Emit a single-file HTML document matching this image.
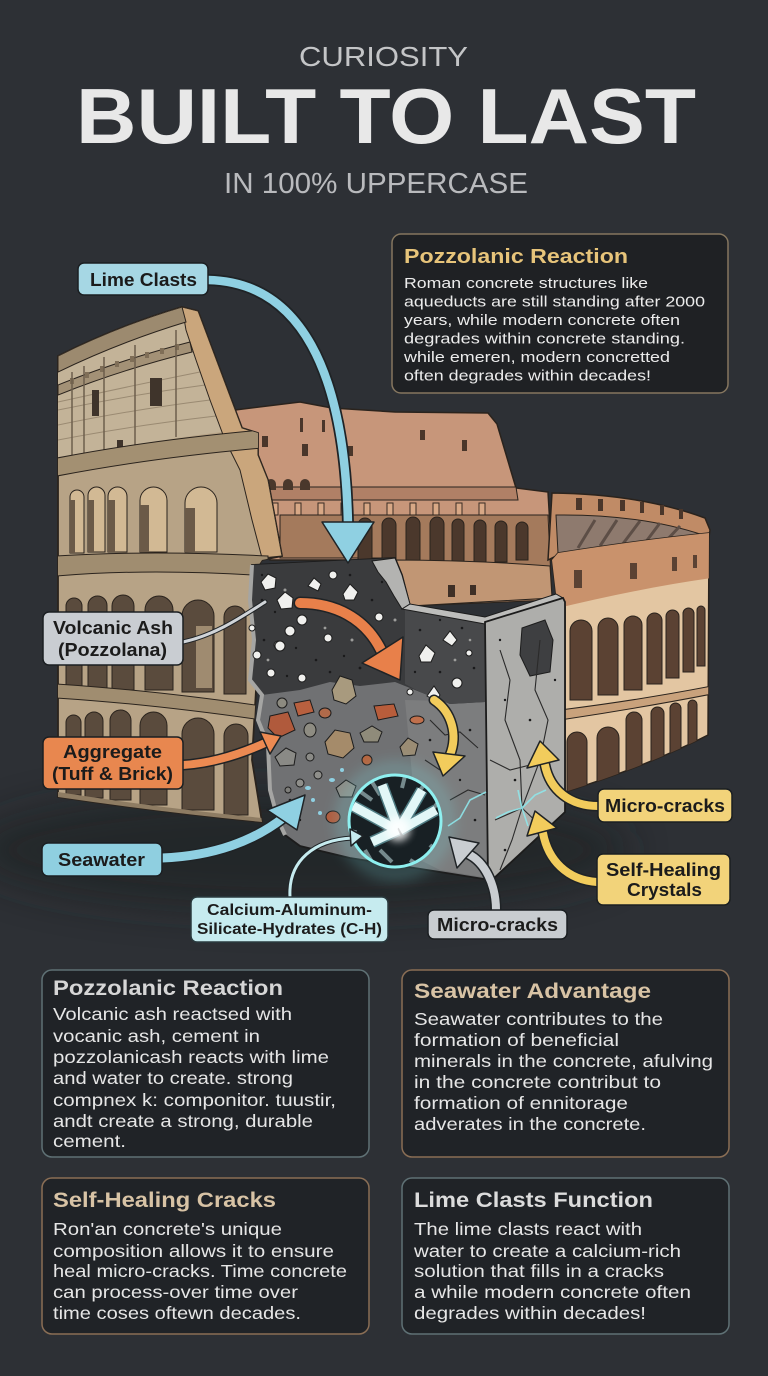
<!DOCTYPE html>
<html><head><meta charset="utf-8">
<style>
html,body{margin:0;padding:0;background:#2d3035;}
svg{display:block;}
text{font-family:"Liberation Sans",sans-serif;}
</style></head><body>
<svg width="768" height="1376" viewBox="0 0 768 1376" xmlns="http://www.w3.org/2000/svg">
<defs>
<filter id="b8" x="-50%" y="-50%" width="200%" height="200%"><feGaussianBlur stdDeviation="8"/></filter>
<filter id="b4" x="-50%" y="-50%" width="200%" height="200%"><feGaussianBlur stdDeviation="4"/></filter>
<filter id="b20" x="-50%" y="-50%" width="200%" height="200%"><feGaussianBlur stdDeviation="20"/></filter>
<clipPath id="circ"><circle cx="395" cy="821" r="46"/></clipPath>
<clipPath id="rsec"><path d="M552,560 L558,553 Q640,540 709,533 L708,735 Q650,765 565,792 L565,602 L556,594 Z"/></clipPath>
<clipPath id="lsec"><path d="M58,356 Q118,326 182,307 L198,311 L242,428 L258,433 L258,455 L268,480 L282,556 L262,560 L252,575 L256,690 L252,760 L262,822 Q160,812 58,797 Z"/></clipPath>
</defs>
<rect width="768" height="1376" fill="#2d3035"/>

<!-- Title -->
<text x="299" y="66" font-size="28" fill="#c4c5c7" textLength="169" lengthAdjust="spacingAndGlyphs">CURIOSITY</text>
<text x="76" y="143" font-size="78" font-weight="bold" fill="#e8e8e8" textLength="620" lengthAdjust="spacingAndGlyphs">BUILT TO LAST</text>
<text x="224" y="193" font-size="29" fill="#b9babd" textLength="304" lengthAdjust="spacingAndGlyphs">IN 100% UPPERCASE</text>

<!-- shadow -->
<ellipse cx="300" cy="850" rx="330" ry="60" fill="#1e2024" opacity="0.6" filter="url(#b20)"/>

<!-- back wall -->
<path d="M235,410 L300,402 L332,408 L395,412 L488,413 L497,424 L516,488 L548,492 L552,560 L270,560 L235,420 Z" fill="#c7967a" stroke="#2a231d" stroke-width="1.5"/>
<path d="M240,487 L516,487 L518,500 L242,500 Z" fill="#b08066" stroke="#2a231d" stroke-width="1"/>
<g fill="#4a362a">
<rect x="262" y="436" width="6" height="11"/><rect x="302" y="444" width="6" height="12"/><rect x="348" y="446" width="5" height="10"/><rect x="420" y="430" width="5" height="10"/><rect x="462" y="440" width="5" height="11"/><rect x="300" y="418" width="3" height="14"/><rect x="322" y="420" width="3" height="12"/>
</g>
<g fill="#d8a886" stroke="#3a2c24" stroke-width="1">
<rect x="272" y="503" width="6" height="12"/><rect x="295" y="503" width="6" height="12"/><rect x="318" y="503" width="6" height="12"/><rect x="341" y="503" width="6" height="12"/><rect x="364" y="503" width="6" height="12"/><rect x="387" y="503" width="6" height="12"/><rect x="410" y="503" width="6" height="12"/><rect x="433" y="503" width="6" height="12"/><rect x="456" y="503" width="6" height="12"/><rect x="479" y="503" width="6" height="12"/>
</g>
<g fill="#4a382c"><path d="M266,490 V484 A5,5 0 0 1 276,484 V490 Z"/><path d="M283,490 V484 A5,5 0 0 1 293,484 V490 Z"/><path d="M300,490 V484 A5,5 0 0 1 310,484 V490 Z"/></g>

<!-- interior arena -->
<path d="M280,515 L548,515 L552,600 L410,606 L395,558 L280,558 Z" fill="#a47a5c" stroke="#2a231d" stroke-width="1"/>
<g fill="#4b382c" stroke="#2a231d" stroke-width="1">
<path d="M358,562 V525 A7,7 0 0 1 372,525 V562 Z"/>
<path d="M382,562 V525 A7,7 0 0 1 396,525 V562 Z"/>
<path d="M406,562 V524 A7,7 0 0 1 420,524 V562 Z"/>
<path d="M430,562 V524 A7,7 0 0 1 444,524 V562 Z"/>
<path d="M452,562 V525 A6,6 0 0 1 464,525 V562 Z"/>
<path d="M474,562 V526 A6,6 0 0 1 486,526 V562 Z"/>
<path d="M495,562 V527 A6,6 0 0 1 507,527 V562 Z"/>
<path d="M516,560 V528 A6,6 0 0 1 528,528 V560 Z"/>
</g>
<path d="M395,560 Q470,560 550,566 L552,598 L410,606 Z" fill="#c19674" stroke="#2a231d" stroke-width="1"/>
<rect x="448" y="585" width="7" height="12" fill="#3e2f26"/><rect x="470" y="585" width="6" height="10" fill="#3e2f26"/>

<!-- right section -->
<path d="M548,560 L552,493 Q640,494 705,518 L710,530 L709,537 Q640,541 558,555 Z" fill="#c08b66" stroke="#2a231d" stroke-width="1.5"/>
<path d="M556,515 Q640,514 703,535 L703,540 Q640,542 558,553 Z" fill="#8e7a6e" stroke="#2a231d" stroke-width="1"/>
<g stroke="#5d4e46" stroke-width="3"><line x1="578" y1="548" x2="595" y2="520"/><line x1="600" y1="546" x2="617" y2="520"/><line x1="622" y1="545" x2="640" y2="521"/><line x1="645" y1="543" x2="660" y2="523"/><line x1="666" y1="541" x2="680" y2="526"/></g>
<g fill="#4a362a"><rect x="576" y="498" width="6" height="12"/><rect x="598" y="499" width="5" height="12"/><rect x="620" y="500" width="5" height="11"/><rect x="640" y="502" width="4" height="11"/><rect x="660" y="505" width="4" height="10"/><rect x="679" y="509" width="4" height="10"/></g>
<path d="M552,560 L558,553 Q640,540 709,533 L708,735 Q650,765 565,792 L565,602 L556,594 Z" fill="#e3c6a2" stroke="#2a231d" stroke-width="1.5"/>
<g clip-path="url(#rsec)">
<path d="M550,550 Q640,538 712,530 L712,578 Q640,588 550,610 Z" fill="#c9926c"/>
<g fill="#5b4233"><rect x="574" y="570" width="8" height="18"/><rect x="630" y="563" width="7" height="16"/><rect x="672" y="557" width="5" height="14"/><rect x="693" y="555" width="4" height="13"/></g>
<g fill="#5b4233" stroke="#2a231d" stroke-width="1">
<path d="M570,700 V631 A11,11 0 0 1 592,631 V700 Z"/>
<path d="M598,695 V628 A10,10 0 0 1 618,628 V695 Z"/>
<path d="M624,690 V625 A9,9 0 0 1 642,625 V690 Z"/>
<path d="M647,684 V620.5 A7.5,7.5 0 0 1 662,620.5 V684 Z"/>
<path d="M666,678 V616.5 A6.5,6.5 0 0 1 679,616.5 V678 Z"/>
<path d="M683,672 V613.5 A5.5,5.5 0 0 1 694,613.5 V672 Z"/>
<path d="M697,666 V610 A4,4 0 0 1 705,610 V666 Z"/>
<path d="M567,800 V742 A10,10 0 0 1 587,742 V800 Z"/>
<path d="M597,790 V738 A11,11 0 0 1 619,738 V790 Z"/>
<path d="M626,780 V720 A8,8 0 0 1 642,720 V780 Z"/>
<path d="M651,770 V713.5 A6.5,6.5 0 0 1 664,713.5 V770 Z"/>
<path d="M670,760 V708.5 A5.5,5.5 0 0 1 681,708.5 V760 Z"/>
<path d="M688,752 V704.5 A4.5,4.5 0 0 1 697,704.5 V752 Z"/>
</g>
<path d="M560,710 Q640,700 712,686 L712,694 Q640,708 560,720 Z" fill="#c9a27c" stroke="#2a231d" stroke-width="1"/>
</g>

<!-- left section -->
<path d="M58,356 Q118,326 182,307 L198,311 L242,428 L258,433 L258,455 L268,480 L282,556 L262,560 L252,575 L256,690 L252,760 L262,822 Q160,812 58,797 Z" fill="#b7a386" stroke="#2a231d" stroke-width="1.8"/>
<g clip-path="url(#lsec)">
<path d="M58,356 Q118,326 182,307 L196,360 L222,432 Q140,442 57,460 Z" fill="#c3b398"/>
<g stroke="#9a8a72" stroke-width="1" fill="none"><path d="M58,410 Q130,395 205,385"/><path d="M58,425 Q130,410 210,400"/><path d="M58,440 Q130,426 216,416"/><path d="M58,402 Q130,386 200,372"/></g>
<path d="M182,307 L198,311 L242,428 L258,433 L258,455 L268,480 L282,556 L262,558 L252,520 L240,470 L225,440 L210,400 L196,360 L186,330 Z" fill="#caa67c" stroke="#2a231d" stroke-width="1"/>
<path d="M58,356 Q118,326 182,307 L186,322 Q120,342 58,372 Z" fill="#9c8a6f" stroke="#2a231d" stroke-width="1"/>
<path d="M58,385 Q120,360 190,342 L192,352 Q120,370 58,395 Z" fill="#a39176" stroke="#2a231d" stroke-width="1"/>
<g fill="#7f6e57"><rect x="70" y="378" width="4" height="6"/><rect x="85" y="372" width="4" height="6"/><rect x="100" y="366" width="4" height="6"/><rect x="115" y="361" width="4" height="6"/><rect x="130" y="356" width="4" height="6"/><rect x="145" y="352" width="4" height="6"/><rect x="160" y="348" width="4" height="6"/><rect x="175" y="344" width="4" height="6"/></g>
<g stroke="#6d5e4c" stroke-width="1.5"><line x1="72" y1="372" x2="72" y2="458"/><line x1="84" y1="366" x2="84" y2="455"/><line x1="104" y1="357" x2="104" y2="450"/><line x1="135" y1="345" x2="135" y2="445"/><line x1="176" y1="330" x2="176" y2="437"/></g>
<rect x="92" y="390" width="7" height="26" fill="#3f342b"/><rect x="150" y="378" width="12" height="28" fill="#3f342b"/><rect x="117" y="440" width="6" height="12" fill="#3f342b"/>
<path d="M57,458 Q150,440 262,430 L262,448 Q150,458 57,476 Z" fill="#a39072" stroke="#2a231d" stroke-width="1"/>
<g fill="#d2b994" stroke="#2a231d" stroke-width="1">
<path d="M70,553 V497 A7,7 0 0 1 84,497 V553 Z"/>
<path d="M88,552 V495.5 A8.5,8.5 0 0 1 105,495.5 V552 Z"/>
<path d="M108,552 V496.5 A9.5,9.5 0 0 1 127,496.5 V552 Z"/>
<path d="M140,552 V500.5 A13.5,13.5 0 0 1 167,500.5 V552 Z"/>
<path d="M185,552 V503 A16,16 0 0 1 217,503 V552 Z"/>
</g>
<g fill="#6b5a48"><rect x="70" y="500" width="5" height="53"/><rect x="88" y="500" width="6" height="52"/><rect x="108" y="500" width="7" height="52"/><rect x="140" y="505" width="9" height="47"/><rect x="185" y="508" width="10" height="44"/></g>
<path d="M57,556 Q150,550 268,556 L268,576 Q150,568 57,576 Z" fill="#a08d70" stroke="#2a231d" stroke-width="1"/>
<g fill="#5a4b3d" stroke="#2a231d" stroke-width="1">
<path d="M66,688 V606 A8,8 0 0 1 82,606 V688 Z"/>
<path d="M88,688 V605.5 A9.5,9.5 0 0 1 107,605.5 V688 Z"/>
<path d="M112,690 V606 A11,11 0 0 1 134,606 V690 Z"/>
<path d="M145,690 V610 A14,14 0 0 1 173,610 V690 Z"/>
<path d="M182,692 V616 A16,16 0 0 1 214,616 V692 Z"/>
<path d="M224,694 V617 A11,11 0 0 1 246,617 V694 Z"/>
</g>
<rect x="196" y="626" width="16" height="62" fill="#cdb592" opacity="0.6"/>
<path d="M57,684 Q150,690 262,706 L262,720 Q150,704 57,698 Z" fill="#a08d70" stroke="#2a231d" stroke-width="1"/>
<g fill="#5a4b3d" stroke="#2a231d" stroke-width="1">
<path d="M66,795 V722.5 A7.5,7.5 0 0 1 81,722.5 V795 Z"/>
<path d="M85,798 V721 A9,9 0 0 1 103,721 V798 Z"/>
<path d="M110,800 V720.5 A10.5,10.5 0 0 1 131,720.5 V800 Z"/>
<path d="M140,805 V725.5 A13.5,13.5 0 0 1 167,725.5 V805 Z"/>
<path d="M182,810 V734 A16,16 0 0 1 214,734 V810 Z"/>
<path d="M224,815 V736 A12,12 0 0 1 248,736 V815 Z"/>
</g>
<path d="M58,792 Q160,808 262,818 L262,830 Q160,820 58,805 Z" fill="#8e7c63"/>
</g>

<!-- concrete block -->
<path d="M252,565 L395,558 L402,575 L410,606 L485,622 L490,880 L440,872 L350,858 L300,846 L285,835 L278,820 L270,790 L268,745 L258,720 L262,695 L250,680 L254,640 L250,600 Z" fill="#707173" stroke="#1c1c1c" stroke-width="1.8"/>
<path d="M405,700 L485,702 L488,878 L440,870 L420,860 Z" fill="#7c7d7e"/>
<path d="M252,565 L395,558 L402,575 L410,606 L485,622 L485,702 L450,704 L420,692 L395,682 L360,686 L330,682 L300,690 L262,695 L250,680 L254,640 L250,600 Z" fill="#3a3b3d"/>
<path d="M405,604 L485,622 L485,702 L450,704 L420,692 L405,684 Z" fill="#48494b"/>
<path d="M252,565 L250,600 L254,640 L250,680 L262,695 L258,720 L268,745 L270,790 L278,820 L285,835" fill="none" stroke="#a5a5a3" stroke-width="4"/>
<path d="M372,561 L395,558 L402,575 L410,604 L402,609 L394,596 L386,582 L378,572 Z" fill="#b3b3b1" stroke="#1c1c1c" stroke-width="1"/>
<path d="M402,609 L410,604 L485,617 L556,594 L563,598 L485,624 Z" fill="#bdbdbb" stroke="#1c1c1c" stroke-width="1"/>
<path d="M485,622 L563,598 L565,602 L565,812 L492,880 L488,880 Z" fill="#aeaeab" stroke="#1c1c1c" stroke-width="1.8"/>
<path d="M522,628 L545,620 L553,640 L550,672 L530,676 L520,655 Z" fill="#3e3f41" stroke="#1c1c1c" stroke-width="1"/>
<!-- speckles -->
<g fill="#1a1a1b">
<circle cx="262" cy="600" r="1.3"/><circle cx="275" cy="612" r="1.2"/><circle cx="300" cy="598" r="1.3"/><circle cx="318" cy="610" r="1.2"/><circle cx="340" cy="606" r="1.4"/><circle cx="358" cy="620" r="1.2"/><circle cx="372" cy="600" r="1.3"/><circle cx="264" cy="640" r="1.3"/><circle cx="296" cy="648" r="1.2"/><circle cx="316" cy="660" r="1.3"/><circle cx="344" cy="656" r="1.2"/><circle cx="360" cy="668" r="1.4"/><circle cx="380" cy="640" r="1.2"/><circle cx="420" cy="630" r="1.3"/><circle cx="440" cy="620" r="1.2"/><circle cx="462" cy="628" r="1.3"/><circle cx="474" cy="668" r="1.3"/><circle cx="415" cy="672" r="1.2"/><circle cx="440" cy="672" r="1.3"/><circle cx="287" cy="676" r="1.2"/><circle cx="330" cy="672" r="1.3"/><circle cx="262" cy="575" r="1.2"/><circle cx="350" cy="575" r="1.3"/><circle cx="382" cy="582" r="1.2"/>
<circle cx="430" cy="740" r="1.3"/><circle cx="470" cy="730" r="1.3"/><circle cx="460" cy="780" r="1.2"/><circle cx="475" cy="820" r="1.3"/><circle cx="455" cy="850" r="1.2"/><circle cx="290" cy="800" r="1.3"/><circle cx="300" cy="820" r="1.2"/><circle cx="505" cy="700" r="1.2"/><circle cx="530" cy="720" r="1.3"/><circle cx="548" cy="760" r="1.2"/><circle cx="515" cy="780" r="1.3"/><circle cx="540" cy="840" r="1.2"/><circle cx="505" cy="850" r="1.3"/><circle cx="555" cy="680" r="1.2"/><circle cx="500" cy="640" r="1.2"/>
</g>
<g fill="#9d9d9b"><circle cx="285" cy="590" r="1.5"/><circle cx="325" cy="628" r="1.4"/><circle cx="352" cy="640" r="1.5"/><circle cx="268" cy="660" r="1.4"/><circle cx="395" cy="620" r="1.5"/><circle cx="455" cy="660" r="1.4"/><circle cx="470" cy="640" r="1.3"/></g>
<!-- lime clasts -->
<g fill="#f0f0ee" stroke="#1c1c1c" stroke-width="1">
<path d="M261,582 L268,574 L276,578 L275,588 L265,590 Z"/>
<path d="M308,586 L314,578 L321,584 L318,591 Z"/>
<path d="M343,594 L350,584 L358,592 L354,600 L345,600 Z"/>
<path d="M277,600 L285,592 L293,598 L292,608 L281,609 Z"/>
<circle cx="333" cy="575" r="4"/><circle cx="302" cy="620" r="5"/><circle cx="290" cy="631" r="5"/><circle cx="328" cy="638" r="4"/><circle cx="252" cy="628" r="3"/><circle cx="257" cy="655" r="4"/><circle cx="278" cy="645" r="4"/><circle cx="302" cy="678" r="4"/><circle cx="271" cy="673" r="4"/><circle cx="379" cy="617" r="4"/><circle cx="469" cy="653" r="3"/><circle cx="410" cy="692" r="3"/><circle cx="457" cy="683" r="5"/><circle cx="280" cy="646" r="5"/>
<path d="M443,640 L450,631 L457,640 L452,646 Z"/>
<path d="M419,656 L426,645 L435,653 L431,662 L421,662 Z"/>
<path d="M427,696 L434,686 L440,695 L436,701 Z"/>
</g>
<!-- aggregate -->
<g stroke="#1c1c1c" stroke-width="1">
<path d="M332,690 L340,676 L352,680 L356,696 L346,704 L334,700 Z" fill="#a89a7e"/>
<path d="M294,703 L310,700 L314,712 L298,716 Z" fill="#b8603f"/>
<path d="M270,716 L288,712 L295,730 L278,738 L268,728 Z" fill="#b05a3c"/>
<circle cx="282" cy="703" r="5" fill="#8c8a80"/>
<ellipse cx="325" cy="713" rx="6" ry="5" fill="#b06a4a"/>
<path d="M325,742 L335,730 L350,733 L354,748 L343,758 L328,754 Z" fill="#a58b6a"/>
<path d="M374,706 L394,704 L398,716 L378,720 Z" fill="#b85d3b"/>
<path d="M360,733 L372,726 L382,732 L378,742 L364,742 Z" fill="#8f8b7a"/>
<ellipse cx="310" cy="730" rx="6" ry="7" fill="#8e8c82"/>
<path d="M400,747 L408,738 L418,744 L415,755 L403,756 Z" fill="#9a8c74"/>
<ellipse cx="417" cy="720" rx="7" ry="4" fill="#c0704c"/>
<path d="M275,757 L286,748 L296,753 L294,765 L280,766 Z" fill="#8a8a86"/>
<circle cx="310" cy="757" r="4" fill="#8a8a86"/>
<circle cx="367" cy="760" r="5" fill="#b5653f"/>
<path d="M336,788 L346,780 L356,786 L352,797 L340,797 Z" fill="#8c8a84"/>
<circle cx="318" cy="775" r="4" fill="#8e8e8a"/>
<ellipse cx="333" cy="817" rx="7" ry="6" fill="#b05a3c"/>
<circle cx="300" cy="783" r="4" fill="#8e8e8a"/>
<circle cx="288" cy="790" r="3" fill="#7e7e7a"/>
</g>
<g fill="#8fd0e2"><ellipse cx="308" cy="788" rx="3" ry="2"/><circle cx="313" cy="800" r="2"/><ellipse cx="332" cy="780" rx="3" ry="2"/><circle cx="342" cy="770" r="2"/><circle cx="320" cy="813" r="2"/></g>
<!-- cracks -->
<g fill="none" stroke="#2a2a2a" stroke-width="1.1">
<path d="M430,720 L445,735 L460,732 L478,748"/><path d="M450,800 L468,790 L485,795"/><path d="M425,760 L440,770"/>
<path d="M500,650 L510,680 L505,720 L520,760 L522,808"/><path d="M540,640 L535,690 L548,720 L540,760 L522,808"/><path d="M522,808 L545,830 L560,828"/><path d="M522,808 L512,840 L500,870"/><path d="M522,808 L495,820"/><path d="M490,760 L510,770 L530,765"/>
</g>
<g fill="none" stroke="#8fe6ea" stroke-width="1.6" opacity="0.9">
<path d="M522,808 L535,795 L546,790"/><path d="M522,808 L508,812 L496,818"/><path d="M522,808 L528,826"/><path d="M522,808 L518,790"/><path d="M486,792 L470,800 L460,818 L448,826"/>
</g>

<!-- glow circle -->
<circle cx="395" cy="821" r="52" fill="none" stroke="#7fe3e8" stroke-width="8" opacity="0.45" filter="url(#b8)"/>
<circle cx="395" cy="821" r="46" fill="#182024"/>
<g clip-path="url(#circ)">
<g stroke="#9fb8bb" stroke-width="4" opacity="0.7"><line x1="358" y1="790" x2="372" y2="800"/><line x1="420" y1="790" x2="430" y2="778"/><line x1="430" y1="845" x2="440" y2="855"/><line x1="365" y1="850" x2="372" y2="862"/><line x1="410" y1="860" x2="420" y2="866"/><line x1="355" y1="830" x2="352" y2="845"/><line x1="380" y1="850" x2="392" y2="862"/><line x1="432" y1="810" x2="440" y2="800"/><line x1="372" y1="782" x2="380" y2="795"/><line x1="405" y1="776" x2="402" y2="788"/></g>
<g stroke="#4f7d84" stroke-width="12"><line x1="353" y1="806" x2="397" y2="830"/><line x1="382" y1="785" x2="398" y2="828"/><line x1="422" y1="790" x2="400" y2="828"/><line x1="436" y1="810" x2="400" y2="830"/><line x1="372" y1="842" x2="398" y2="830"/></g>
<g stroke="#e2f7f7" stroke-width="9"><line x1="353" y1="806" x2="397" y2="830"/><line x1="382" y1="785" x2="398" y2="828"/><line x1="422" y1="790" x2="400" y2="828"/><line x1="436" y1="810" x2="400" y2="830"/><line x1="372" y1="842" x2="398" y2="830"/></g>
<circle cx="398" cy="829" r="12" fill="#ffffff" opacity="0.85" filter="url(#b4)"/>
</g>
<circle cx="395" cy="821" r="46" fill="none" stroke="#8ef0f0" stroke-width="3"/>

<!-- arrows -->
<g stroke-linecap="round" fill="none">
<path d="M208,280 C300,282 345,370 348,525" stroke="#1f2326" stroke-width="12"/>
<path d="M208,280 C300,282 345,370 348,525" stroke="#8fd0e2" stroke-width="8.5"/>
<path d="M183,642 C215,635 240,618 265,602" stroke="#1f2326" stroke-width="5"/>
<path d="M183,642 C215,635 240,618 265,602" stroke="#d0d4d8" stroke-width="3"/>
<path d="M183,765 C215,763 245,752 265,743" stroke="#1f2326" stroke-width="11"/>
<path d="M183,765 C215,763 245,752 265,743" stroke="#ec8a52" stroke-width="8"/>
<path d="M162,858 C215,856 255,840 283,818" stroke="#1f2326" stroke-width="12"/>
<path d="M162,858 C215,856 255,840 283,818" stroke="#8fd0e2" stroke-width="9"/>
<path d="M300,603 C335,603 365,618 381,650" stroke="#1f2326" stroke-width="13"/>
<path d="M300,603 C335,603 365,618 381,650" stroke="#e8804a" stroke-width="10"/>
<path d="M434,700 C452,712 458,735 450,755" stroke="#1f2326" stroke-width="11"/>
<path d="M434,700 C452,712 458,735 450,755" stroke="#f2cc5c" stroke-width="8"/>
<path d="M598,806 C570,806 550,790 545,765" stroke="#1f2326" stroke-width="11"/>
<path d="M598,806 C570,806 550,790 545,765" stroke="#f2cc5c" stroke-width="8"/>
<path d="M597,882 C567,880 548,860 543,833" stroke="#1f2326" stroke-width="11"/>
<path d="M597,882 C567,880 548,860 543,833" stroke="#f2cc5c" stroke-width="8"/>
<path d="M496,910 C496,885 485,862 468,854" stroke="#1f2326" stroke-width="11"/>
<path d="M496,910 C496,885 485,862 468,854" stroke="#c9cdd1" stroke-width="8"/>
<path d="M290,897 C288,860 315,840 352,838" stroke="#1f2326" stroke-width="5"/>
<path d="M290,897 C288,860 315,840 352,838" stroke="#c6ebef" stroke-width="3"/>
</g>
<g stroke="#1f2326" stroke-width="1.5" stroke-linejoin="round">
<polygon points="322,522 374,522 348,563" fill="#8fd0e2"/>
<polygon points="260,732 270,754 281,736" fill="#ec8a52"/>
<polygon points="305,795 267,810 297,830" fill="#8fd0e2"/>
<polygon points="362,663 403,637 400,680" fill="#e8804a"/>
<polygon points="433,752 465,756 443,776" fill="#f2cc5c"/>
<polygon points="527,768 559,760 540,741" fill="#f2cc5c"/>
<polygon points="527,836 557,828 535,811" fill="#f2cc5c"/>
<polygon points="457,868 479,843 449,837" fill="#c9cdd1"/>
<polygon points="363,836 350,829 351,846" fill="#c6ebef"/>
</g>

<!-- labels -->
<g stroke="#1b1f22" stroke-width="1.5">
<rect x="78" y="263" width="130" height="32" rx="6" fill="#a6d7e4"/>
<rect x="43" y="612" width="140" height="53" rx="6" fill="#c9cdd2"/>
<rect x="43" y="737" width="140" height="52" rx="6" fill="#e8874f"/>
<rect x="42" y="843" width="120" height="33" rx="6" fill="#8fcfe0"/>
<rect x="191" y="897" width="197" height="45" rx="6" fill="#c6ebef" stroke="#2a3a3e"/>
<rect x="598" y="789" width="134" height="33" rx="6" fill="#f2d37a"/>
<rect x="597" y="854" width="133" height="51" rx="6" fill="#f2d37a"/>
<rect x="428" y="910" width="139" height="29" rx="6" fill="#c8ccd0"/>
</g>
<g font-weight="bold" fill="#1b1b1b" font-size="18.5">
<text x="90" y="286" textLength="107" lengthAdjust="spacingAndGlyphs">Lime Clasts</text>
<text x="53" y="634" textLength="120" lengthAdjust="spacingAndGlyphs">Volcanic Ash</text>
<text x="58" y="656" textLength="109" lengthAdjust="spacingAndGlyphs">(Pozzolana)</text>
<text x="63" y="758" textLength="99" lengthAdjust="spacingAndGlyphs">Aggregate</text>
<text x="52" y="780" textLength="121" lengthAdjust="spacingAndGlyphs">(Tuff &amp; Brick)</text>
<text x="58" y="866" textLength="87" lengthAdjust="spacingAndGlyphs">Seawater</text>
<text x="605" y="812" textLength="120" lengthAdjust="spacingAndGlyphs">Micro-cracks</text>
<text x="606" y="876" textLength="115" lengthAdjust="spacingAndGlyphs">Self-Healing</text>
<text x="627" y="896" textLength="75" lengthAdjust="spacingAndGlyphs">Crystals</text>
<text x="437" y="931" textLength="121" lengthAdjust="spacingAndGlyphs">Micro-cracks</text>
<text x="207" y="915" font-size="15.5" textLength="165" lengthAdjust="spacingAndGlyphs">Calcium-Aluminum-</text>
<text x="197" y="934" font-size="15.5" textLength="185" lengthAdjust="spacingAndGlyphs">Silicate-Hydrates (C-H)</text>
</g>

<!-- top info box -->
<rect x="392" y="234" width="336" height="159" rx="9" fill="#1f2124" stroke="#85765f" stroke-width="1.5"/>
<text x="404" y="263" font-size="20" font-weight="bold" fill="#e7c47a" textLength="224" lengthAdjust="spacingAndGlyphs">Pozzolanic Reaction</text>
<g font-size="15" fill="#ececec">
<text x="404" y="288" textLength="244" lengthAdjust="spacingAndGlyphs">Roman concrete structures like</text>
<text x="404" y="306.5" textLength="301" lengthAdjust="spacingAndGlyphs">aqueducts are still standing after 2000</text>
<text x="404" y="325" textLength="276" lengthAdjust="spacingAndGlyphs">years, while modern concrete often</text>
<text x="404" y="343.5" textLength="281" lengthAdjust="spacingAndGlyphs">degrades within concrete standing.</text>
<text x="404" y="362" textLength="266" lengthAdjust="spacingAndGlyphs">while emeren, modern concretted</text>
<text x="404" y="380.5" textLength="247" lengthAdjust="spacingAndGlyphs">often degrades within decades!</text>
</g>

<!-- bottom cards -->
<rect x="42" y="970" width="327" height="187" rx="10" fill="#202327" stroke="#5f7175" stroke-width="1.5"/>
<rect x="402" y="970" width="327" height="187" rx="10" fill="#202327" stroke="#8a6e55" stroke-width="1.5"/>
<rect x="42" y="1178" width="327" height="156" rx="10" fill="#202327" stroke="#8a6e55" stroke-width="1.5"/>
<rect x="402" y="1178" width="327" height="156" rx="10" fill="#202327" stroke="#5f7175" stroke-width="1.5"/>

<g font-size="21" font-weight="bold">
<text x="53" y="995" fill="#d6d6d6" textLength="230" lengthAdjust="spacingAndGlyphs">Pozzolanic Reaction</text>
<text x="414" y="998" fill="#d8c3a5" textLength="237" lengthAdjust="spacingAndGlyphs">Seawater Advantage</text>
<text x="53" y="1207" fill="#d8c3a5" textLength="223" lengthAdjust="spacingAndGlyphs">Self-Healing Cracks</text>
<text x="414" y="1207" fill="#dcdcdc" textLength="239" lengthAdjust="spacingAndGlyphs">Lime Clasts Function</text>
</g>
<g font-size="17.5" fill="#e6e6e6">
<text x="53" y="1020" textLength="239" lengthAdjust="spacingAndGlyphs">Volcanic ash reactsed with</text>
<text x="53" y="1042" textLength="207" lengthAdjust="spacingAndGlyphs">vocanic ash, cement in</text>
<text x="53" y="1063" textLength="276" lengthAdjust="spacingAndGlyphs">pozzolanicash reacts with lime</text>
<text x="53" y="1084" textLength="240" lengthAdjust="spacingAndGlyphs">and water to create. strong</text>
<text x="53" y="1106" textLength="283" lengthAdjust="spacingAndGlyphs">compnex k: componitor. tuustir,</text>
<text x="53" y="1127" textLength="260" lengthAdjust="spacingAndGlyphs">andt create a strong, durable</text>
<text x="53" y="1147" textLength="73" lengthAdjust="spacingAndGlyphs">cement.</text>

<text x="414" y="1025" textLength="249" lengthAdjust="spacingAndGlyphs">Seawater contributes to the</text>
<text x="414" y="1046" textLength="205" lengthAdjust="spacingAndGlyphs">formation of beneficial</text>
<text x="414" y="1067" textLength="299" lengthAdjust="spacingAndGlyphs">minerals in the concrete, afulving</text>
<text x="414" y="1088" textLength="247" lengthAdjust="spacingAndGlyphs">in the concrete contribut to</text>
<text x="414" y="1109" textLength="214" lengthAdjust="spacingAndGlyphs">formation of ennitorage</text>
<text x="414" y="1130" textLength="232" lengthAdjust="spacingAndGlyphs">adverates in the concrete.</text>

<text x="53" y="1235" textLength="229" lengthAdjust="spacingAndGlyphs">Ron'an concrete's unique</text>
<text x="53" y="1257" textLength="281" lengthAdjust="spacingAndGlyphs">composition allows it to ensure</text>
<text x="53" y="1277" textLength="294" lengthAdjust="spacingAndGlyphs">heal micro-cracks. Time concrete</text>
<text x="53" y="1298" textLength="245" lengthAdjust="spacingAndGlyphs">can process-over time over</text>
<text x="53" y="1319" textLength="248" lengthAdjust="spacingAndGlyphs">time coses oftewn decades.</text>

<text x="414" y="1235" textLength="228" lengthAdjust="spacingAndGlyphs">The lime clasts react with</text>
<text x="414" y="1257" textLength="267" lengthAdjust="spacingAndGlyphs">water to create a calcium-rich</text>
<text x="414" y="1277" textLength="250" lengthAdjust="spacingAndGlyphs">solution that fills in a cracks</text>
<text x="414" y="1298" textLength="277" lengthAdjust="spacingAndGlyphs">a while modern concrete often</text>
<text x="414" y="1319" textLength="232" lengthAdjust="spacingAndGlyphs">degrades within decades!</text>
</g>
</svg>
</body></html>
